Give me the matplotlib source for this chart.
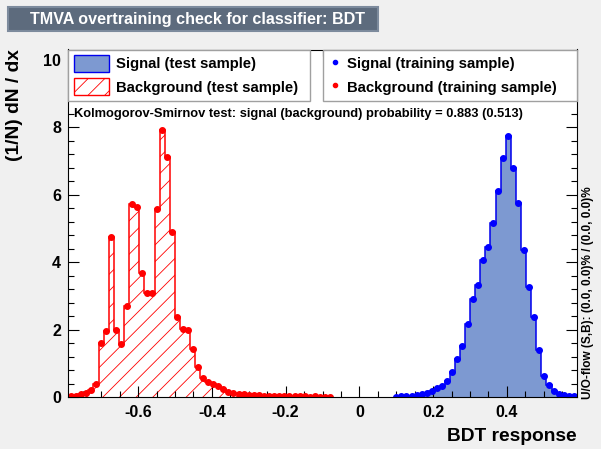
import numpy as np
import matplotlib
matplotlib.use("Agg")
from matplotlib import pyplot as plt
from matplotlib.patches import Patch, Rectangle
from matplotlib.lines import Line2D
from matplotlib.ticker import MultipleLocator

# histogram binning of the BDT output
x_min, x_max, n_bins = -0.79, 0.59, 100

# background (test sample), first filled bin = 0
bkg_first = 0
bkg_test = [0.02, 0.04, 0.08, 0.12, 0.22, 0.38, 1.60, 1.96, 4.74, 2.00,
            1.57, 2.71, 5.71, 5.63, 3.67, 3.07, 3.07, 5.56, 7.90, 7.12,
            4.89, 2.36, 2.01, 2.00, 1.43, 0.90, 0.55, 0.45, 0.38, 0.32,
            0.23, 0.16, 0.12, 0.10, 0.08, 0.07, 0.06, 0.05, 0.04, 0.04,
            0.03, 0.03, 0.03, 0.02, 0.02, 0.02, 0.02, 0.01, 0.02, 0.01,
            0.01, 0.01]
bkg_train = bkg_test

# signal (test sample), first filled bin = 64
sig_first = 64
sig_test = [0.01, 0.02, 0.03, 0.04, 0.06, 0.09, 0.13, 0.19, 0.26, 0.33,
            0.48, 0.75, 1.12, 1.50, 2.16, 2.90, 3.33, 4.07, 4.44, 5.17,
            6.10, 7.09, 7.75, 6.80, 5.75, 4.37, 3.25, 2.38, 1.39, 0.63,
            0.35, 0.18, 0.10, 0.05, 0.03, 0.02]
sig_train = sig_test

ks_sig, ks_bkg = 0.883, 0.513

c_sig_fill = '#7d99d1'
c_sig_line = '#0000ee'
c_bkg = '#ff0000'

plt.rcParams['font.family'] = ['Liberation Sans', 'DejaVu Sans']
plt.rcParams['font.weight'] = 'bold'
plt.rcParams['hatch.linewidth'] = 0.6

fig = plt.figure(figsize=(6.01, 4.49), dpi=100, facecolor='#f0f0f0')
ax = fig.add_axes([68/601, 52/449, 509/601, 347.5/449])
ax.set_facecolor('white')

edges = np.linspace(x_min, x_max, n_bins + 1)
centers = 0.5 * (edges[:-1] + edges[1:])

bkg_edges = edges[bkg_first:bkg_first + len(bkg_test) + 1]
sig_edges = edges[sig_first:sig_first + len(sig_test) + 1]

ax.stairs(sig_test, sig_edges, fill=True, facecolor=c_sig_fill, edgecolor='none')
ax.stairs(sig_test, sig_edges, color=c_sig_line, linewidth=1.1)
ax.stairs(bkg_test, bkg_edges, fill=True, facecolor='none', edgecolor=c_bkg,
          hatch='//', linewidth=0)
ax.stairs(bkg_test, bkg_edges, color=c_bkg, linewidth=1.1)

ax.plot(centers[sig_first:sig_first + len(sig_train)], sig_train, 'o',
        color='#0000ff', ms=4)
ax.plot(centers[bkg_first:bkg_first + len(bkg_train)], bkg_train, 'o',
        color=c_bkg, ms=4)

ax.set_xlim(x_min, x_max)
ax.set_ylim(0, 10.3)
ax.xaxis.set_major_locator(MultipleLocator(0.2))
ax.xaxis.set_minor_locator(MultipleLocator(0.05))
ax.yaxis.set_major_locator(MultipleLocator(2))
ax.yaxis.set_minor_locator(MultipleLocator(0.4))
ax.tick_params(which='both', direction='in', top=True, right=True, labelsize=11.5)
ax.tick_params(which='major', length=8, width=0.8)
ax.tick_params(which='minor', length=4, width=0.8)
ax.tick_params(axis='x', pad=6)
ax.tick_params(axis='y', pad=5)
ax.xaxis.set_major_formatter(plt.FuncFormatter(lambda v, p: '0' if abs(v) < 1e-9 else f'{v:g}'))
for s in ax.spines.values():
    s.set_linewidth(0.8)

ax.set_xlabel('BDT response', fontsize=13.8, fontweight='bold', loc='right')
ax.xaxis.set_label_coords(1.0, -0.088)
ax.set_ylabel('(1/N) dN / dx', fontsize=13.8, fontweight='bold', loc='top')
ax.yaxis.set_label_coords(-0.088, 1.0)

# legends
leg_kw = dict(loc='upper left', mode='expand', borderaxespad=0, fontsize=10.7,
              handleheight=1.34, labelspacing=0.45, borderpad=0.38,
              fancybox=False, framealpha=1, edgecolor='#a0a0a0')
leg1 = ax.legend(handles=[Patch(facecolor=c_sig_fill, edgecolor=c_sig_line, lw=1),
                          Patch(facecolor='white', edgecolor=c_bkg, hatch='//', lw=1)],
                 labels=['Signal (test sample)', 'Background (test sample)'],
                 bbox_to_anchor=(0.0, 0.0, 0.476, 1.0), handlelength=2.4,
                 handletextpad=0.45, **leg_kw)
leg1.get_frame().set_linewidth(1.0)
ax.add_artist(leg1)

leg2 = ax.legend(handles=[Line2D([], [], ls='none', marker='o', ms=3, color='#0000ff'),
                          Line2D([], [], ls='none', marker='o', ms=3, color=c_bkg)],
                 labels=['Signal (training sample)', 'Background (training sample)'],
                 bbox_to_anchor=(0.501, 0.0, 0.499, 1.0), handlelength=0.9,
                 handletextpad=0.35, **leg_kw)
leg2.get_frame().set_linewidth(1.0)

ax.text(0.012, 0.815,
        f'Kolmogorov-Smirnov test: signal (background) probability = {ks_sig:.3f} ({ks_bkg:.3f})',
        transform=ax.transAxes, fontsize=9.3, fontweight='bold', va='center', ha='left')

fig.text(588/601, 50/449, 'U/O-flow (S,B): (0.0, 0.0)% / (0.0, 0.0)%',
         rotation=90, fontsize=8.5, fontweight='bold', ha='center', va='bottom')

# title box
fig.patches.append(Rectangle((8/601, 1 - 31/449), 370/601, 24/449,
                             transform=fig.transFigure, facecolor='#5d6b7d',
                             edgecolor='#7d8b9d', linewidth=1.5))
fig.text(197/601, 1 - 19.5/449, 'TMVA overtraining check for classifier: BDT',
         color='white', fontsize=11.6, fontweight='bold', ha='center', va='center')

fig.savefig('out.png', dpi=100, facecolor=fig.get_facecolor())
